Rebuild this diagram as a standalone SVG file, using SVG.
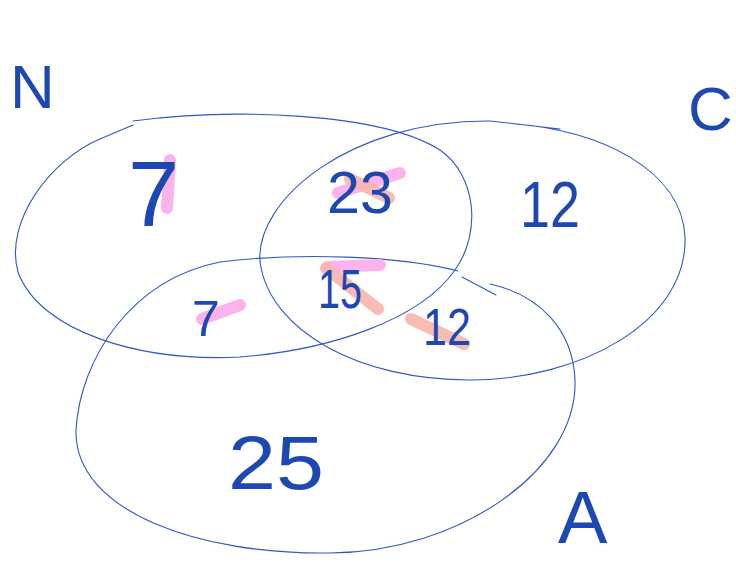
<svg xmlns="http://www.w3.org/2000/svg" width="736" height="567" viewBox="0 0 736 567">
<style>
.ring{fill:none;stroke:#2f58c4;stroke-width:1.1;stroke-linecap:round;stroke-linejoin:round}
.hand{font-family:"Liberation Sans","DejaVu Sans",sans-serif;fill:#1d48b2}
.pk{fill:none;stroke:#fbb3ec;stroke-width:12;stroke-linecap:round}
.sa{fill:none;stroke:#f7b5ad;stroke-width:12;stroke-linecap:round;opacity:0.9}
</style>
<rect width="736" height="567" fill="#ffffff"/>
<g id="set-N">
<path class="ring" d="M133,121 C230,108 380,112 440,150 C476,175 482,232 455,270 C420,320 330,350 240,357 C140,362 40,332 18,272 C4,222 50,160 100,139 L133,125"/>
</g>
<g id="set-C">
<path class="ring" d="M515,124 C600,130 682,170 685,237 C688,322 580,380 470,380 C360,380 270,332 260,262 C255,200 350,120 490,121 L560,129"/>
</g>
<g id="set-A">
<path class="ring" d="M458,271 C400,256 300,252 220,262 C130,280 80,360 76,430 C74,512 200,555 330,553 C460,552 578,470 575,380 C573,330 540,295 490,284 M462,277 L496,295"/>
</g>
<g id="highlights">
<path class="pk" d="M170,160 L167,208"/>
<path class="pk" d="M338,193 L400,173"/>
<path class="sa" d="M350,179 L389,198"/>
<path class="pk" d="M202,319 L240,305"/>
<path class="pk" d="M328,267 L380,265"/>
<path class="sa" d="M326,268 L378,309"/>
<path class="sa" d="M411,319 L464,344"/>
</g>
<g id="labels">
<text class="hand" x="10" y="108" font-size="62">N</text>
<text class="hand" x="688" y="130" font-size="62">C</text>
<text class="hand" x="558" y="543" font-size="74">A</text>
<text class="hand" x="128" y="226" font-size="92">7</text>
<text class="hand" x="327" y="213" font-size="60" textLength="66" lengthAdjust="spacingAndGlyphs">23</text>
<text class="hand" x="520" y="227" font-size="64" textLength="60" lengthAdjust="spacingAndGlyphs">12</text>
<text class="hand" x="192" y="336" font-size="50">7</text>
<text class="hand" x="318" y="308" font-size="56" textLength="44" lengthAdjust="spacingAndGlyphs">15</text>
<text class="hand" x="423" y="345" font-size="52" textLength="48" lengthAdjust="spacingAndGlyphs">12</text>
<text class="hand" x="228" y="489" font-size="76" textLength="96" lengthAdjust="spacingAndGlyphs">25</text>
</g>
</svg>
